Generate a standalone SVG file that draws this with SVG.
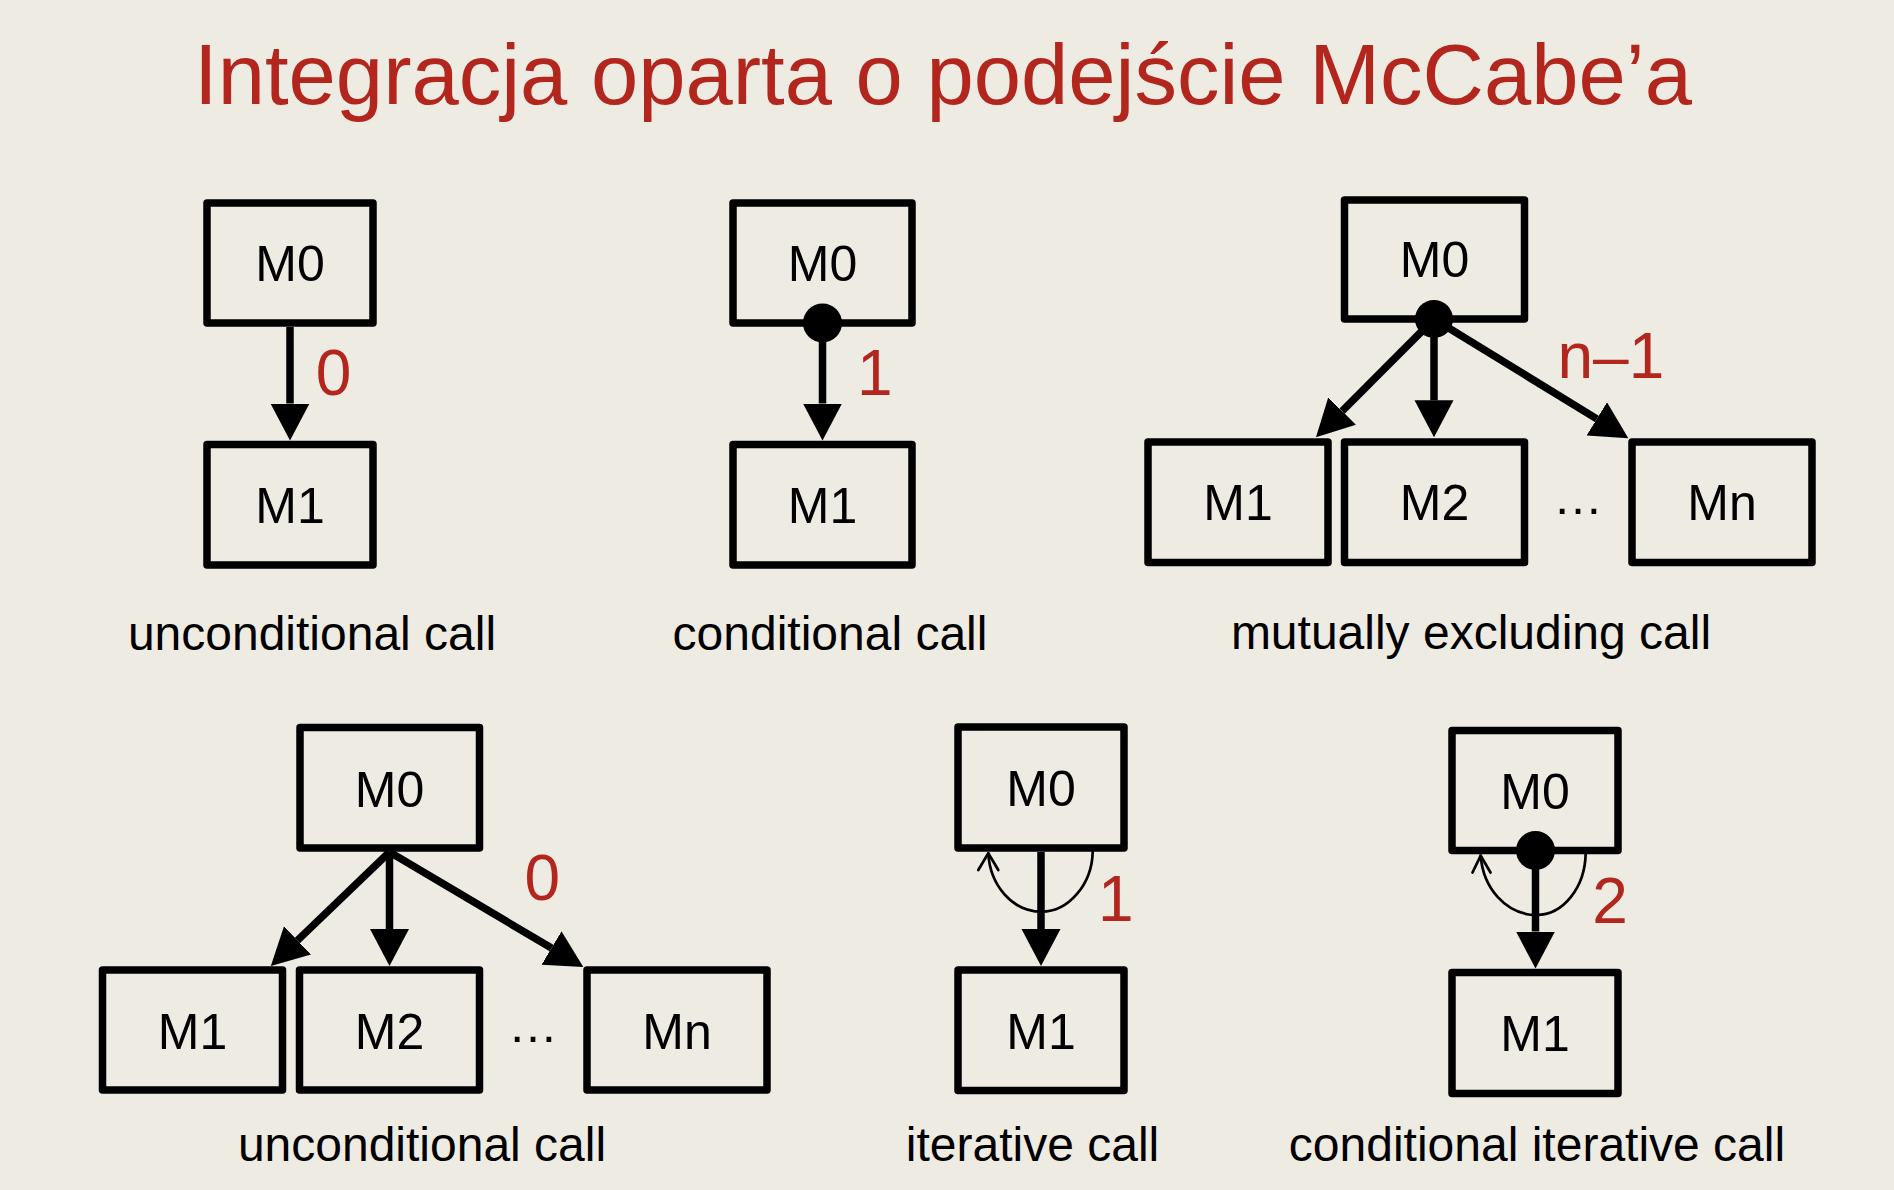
<svg xmlns="http://www.w3.org/2000/svg" width="1894" height="1190" viewBox="0 0 1894 1190">
<style>
.box{fill:none;stroke:#000;stroke-width:7.5;stroke-linejoin:round}
.lbl{font-family:"Liberation Sans",Arial,sans-serif;font-size:50px;fill:#000;text-anchor:middle}
.cap{font-family:"Liberation Sans",Arial,sans-serif;font-size:48px;fill:#000;text-anchor:middle}
.num{font-family:"Liberation Sans",Arial,sans-serif;font-size:64px;fill:#b3261e}
.edge{stroke:#000;stroke-width:7.5;fill:none;marker-end:url(#ah)}
.loop{stroke:#000;stroke-width:2.7;fill:none;stroke-linecap:round;stroke-linejoin:round}
.dot{fill:#000}
</style>
<defs>
<marker id="ah" markerUnits="userSpaceOnUse" markerWidth="38" markerHeight="40" refX="0" refY="19.5" orient="auto" viewBox="0 0 38 40">
<path d="M0,0 L37,19.5 L0,39 Z" fill="#000"/>
</marker>
</defs>
<rect width="1894" height="1190" fill="#eeebe3"/>
<text x="943" y="104" font-family="'Liberation Sans',Arial,sans-serif" font-size="85" fill="#b3261e" text-anchor="middle">Integracja oparta o podejście McCabe’a</text>

<g id="connectors">
<line class="edge" x1="290" y1="327" x2="290" y2="403.5"/>
<line class="edge" x1="822.5" y1="323" x2="822.5" y2="403.5"/>
<line class="edge" x1="1434" y1="319" x2="1342.1" y2="411.1"/>
<line class="edge" x1="1434" y1="319" x2="1434" y2="400.3"/>
<line class="edge" x1="1434" y1="319" x2="1596.8" y2="418.9"/>
<line class="edge" x1="389.5" y1="852" x2="297.5" y2="940.4"/>
<line class="edge" x1="389.5" y1="852" x2="389.5" y2="929"/>
<line class="edge" x1="389.5" y1="852" x2="551.5" y2="948.1"/>
<line class="edge" x1="1041" y1="852" x2="1041" y2="929"/>
<line class="edge" x1="1535.5" y1="850.5" x2="1535.5" y2="931.5"/>
<path class="loop" d="M1092.7,851.7 C1092,885 1068,911.7 1041.7,911.7 C1012,911.7 990,885 988.3,853.3"/>
<path class="loop" d="M978.3,870 L988.3,853.3 L998.3,870"/>
<path class="loop" d="M1585.7,853.3 C1585,888 1563,915 1536.5,915 C1506,915 1483,888 1480.7,855.7"/>
<path class="loop" d="M1472.5,872.5 L1480.7,855.7 L1490.5,872.5"/>
</g>

<g id="d1">
<g id="d1-m0"><rect class="box" x="207" y="203" width="166" height="120"/><text class="lbl" x="290" y="281">M0</text></g>
<g id="d1-m1"><rect class="box" x="207" y="444.5" width="166" height="120.5"/><text class="lbl" x="290" y="523">M1</text></g>
<text class="num" x="333.5" y="395" text-anchor="middle">0</text>
<text class="cap" x="312" y="650">unconditional call</text>
</g>

<g id="d2">
<g id="d2-m0"><rect class="box" x="733" y="203" width="179" height="120"/><text class="lbl" x="822.5" y="281">M0</text><circle class="dot" cx="822.5" cy="323" r="19.5"/></g>
<g id="d2-m1"><rect class="box" x="733" y="444.5" width="179" height="120.5"/><text class="lbl" x="822.5" y="523">M1</text></g>
<text class="num" x="874.8" y="395" text-anchor="middle">1</text>
<text class="cap" x="830" y="650">conditional call</text>
</g>

<g id="d3">
<g id="d3-m0"><rect class="box" x="1344.5" y="200" width="180" height="119"/><text class="lbl" x="1434.5" y="277">M0</text><circle class="dot" cx="1434" cy="319" r="19"/></g>
<g id="d3-m1"><rect class="box" x="1148" y="442" width="180" height="120.5"/><text class="lbl" x="1238" y="519.5">M1</text></g>
<g id="d3-m2"><rect class="box" x="1344.5" y="442" width="180" height="120.5"/><text class="lbl" x="1434.5" y="519.5">M2</text></g>
<g id="d3-mn"><rect class="box" x="1632" y="442" width="180" height="120.5"/><text class="lbl" x="1722" y="519.5">Mn</text></g>
<text class="lbl" x="1578" y="514" font-size="48">…</text>
<text class="num" x="1557.5" y="378">n–1</text>
<text class="cap" x="1471" y="649">mutually excluding call</text>
</g>

<g id="d4">
<g id="d4-m0"><rect class="box" x="300" y="727.5" width="179.5" height="120.5"/><text class="lbl" x="389.5" y="806.5">M0</text></g>
<g id="d4-m1"><rect class="box" x="102.5" y="970" width="180" height="120"/><text class="lbl" x="192.5" y="1048.5">M1</text></g>
<g id="d4-m2"><rect class="box" x="299.5" y="970" width="180" height="120"/><text class="lbl" x="389.5" y="1048.5">M2</text></g>
<g id="d4-mn"><rect class="box" x="587" y="970" width="180" height="120"/><text class="lbl" x="677" y="1048.5">Mn</text></g>
<text class="lbl" x="533" y="1042" font-size="48">…</text>
<text class="num" x="542.3" y="900" text-anchor="middle">0</text>
<text class="cap" x="422" y="1161">unconditional call</text>
</g>

<g id="d5">
<g id="d5-m0"><rect class="box" x="958" y="727" width="166" height="121"/><text class="lbl" x="1041" y="806">M0</text></g>
<g id="d5-m1"><rect class="box" x="958" y="970" width="166" height="120.5"/><text class="lbl" x="1041" y="1048.5">M1</text></g>
<text class="num" x="1115.8" y="921" text-anchor="middle">1</text>
<text class="cap" x="1032.5" y="1161">iterative call</text>
</g>

<g id="d6">
<g id="d6-m0"><rect class="box" x="1452" y="730.5" width="166" height="120"/><text class="lbl" x="1535" y="808.5">M0</text><circle class="dot" cx="1535.5" cy="850.5" r="19.5"/></g>
<g id="d6-m1"><rect class="box" x="1452" y="972.5" width="166" height="121"/><text class="lbl" x="1535" y="1051">M1</text></g>
<text class="num" x="1610" y="923" text-anchor="middle">2</text>
<text class="cap" x="1537" y="1161">conditional iterative call</text>
</g>
</svg>
